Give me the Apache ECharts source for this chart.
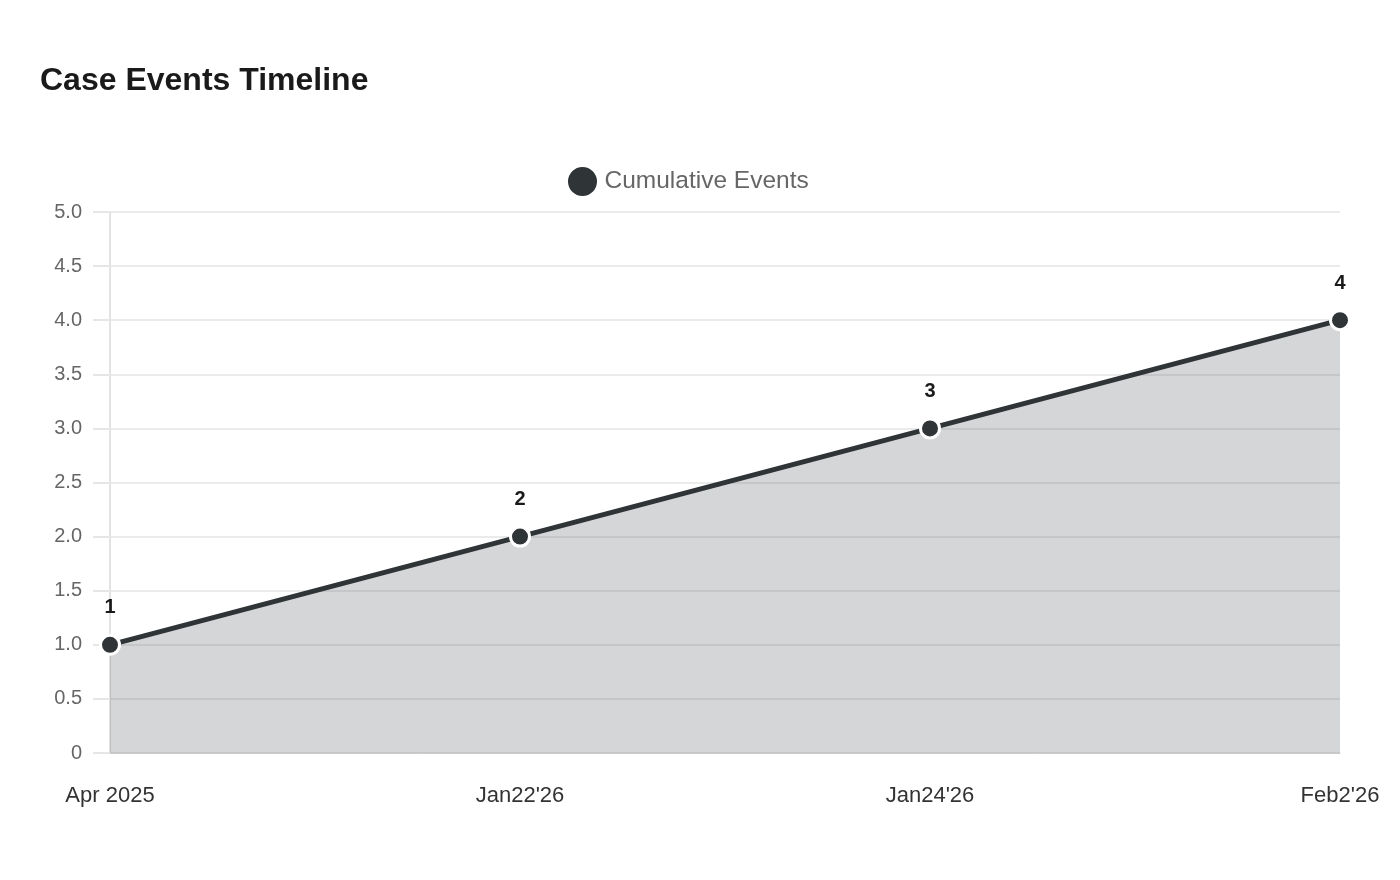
<!DOCTYPE html>
<html><head><meta charset="utf-8">
<script src="https://cdn.jsdelivr.net/npm/echarts@6/dist/echarts.min.js"></script>
<style>html,body{margin:0;padding:0;background:#fff}#c{width:1400px;height:880px}</style>
</head><body><div id="c"></div>
<script>
const categories = ["Apr 2025", "Jan22'26", "Jan24'26", "Feb2'26"];
const cumulativeEvents = [1, 2, 3, 4];
const seriesName = "Cumulative Events";
const chart = echarts.init(document.getElementById('c'));
chart.setOption({
  backgroundColor: '#fff',
  title: {text: 'Case Events Timeline', left: 35, top: 60, textStyle: {fontFamily: 'Liberation Sans, Arial', fontSize: 32, fontWeight: 'bold', color: '#1a1a1a'}},
  legend: {top: 160, left: 561, icon: 'circle', itemWidth: 34, itemHeight: 31, itemGap: 10,
    textStyle: {fontFamily: 'Liberation Sans, Arial', fontSize: 24.5, color: '#666'}, data: [seriesName]},
  grid: {left: 110, right: 60, top: 212, bottom: 127},
  xAxis: {type: 'category', data: categories, boundaryGap: false,
    axisLine: {lineStyle: {color: '#ccc'}}, axisTick: {show: false},
    axisLabel: {margin: 32, fontFamily: 'Liberation Sans, Arial', fontSize: 22, color: '#333'},
    splitLine: {show: false}},
  yAxis: {type: 'value', min: 0, max: 5, interval: 0.5,
    axisLine: {show: true, lineStyle: {color: '#e3e3e3', width: 2}},
    axisTick: {show: true, length: 17, lineStyle: {color: '#e6e6e6', width: 2}},
    axisLabel: {margin: 28, fontFamily: 'Liberation Sans, Arial', fontSize: 20, color: '#666',
      formatter: v => v === 0 ? '0' : v.toFixed(1)},
    splitLine: {lineStyle: {color: '#ebebeb', width: 2}}},
  series: [{name: seriesName, type: 'line', data: cumulativeEvents,
    symbol: 'circle', symbolSize: 19,
    itemStyle: {color: '#2f3436', borderColor: '#fff', borderWidth: 3},
    lineStyle: {color: '#2f3436', width: 5},
    areaStyle: {color: '#2f3436', opacity: 0.2},
    label: {show: true, position: 'top', distance: 16, fontFamily: 'Liberation Sans, Arial', fontSize: 20, fontWeight: 'bold', color: '#1a1a1a'},
    z: 3}]
});
</script></body></html>
